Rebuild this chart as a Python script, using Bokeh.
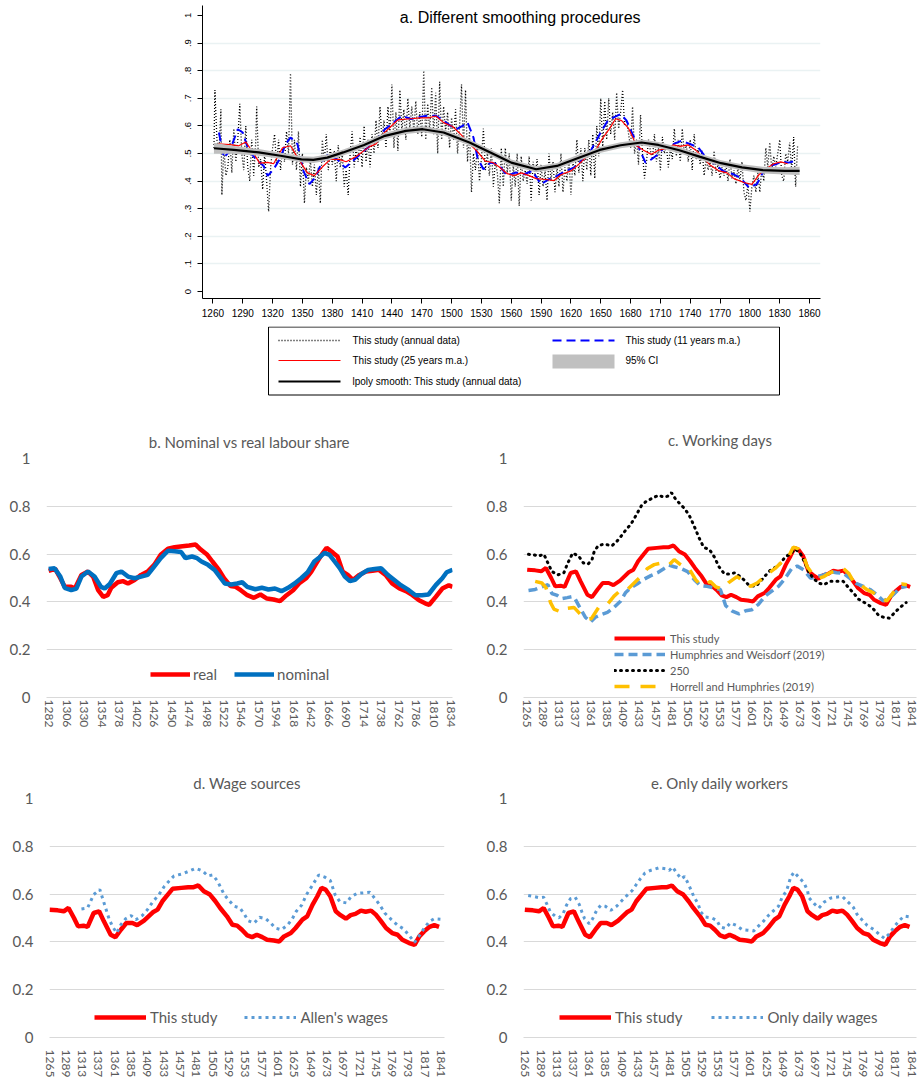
from bokeh.plotting import figure
from bokeh.layouts import column, row
from bokeh.models import FixedTicker, Range1d, Legend, LegendItem, Label, NumeralTickFormatter
from bokeh.embed import file_html
from bokeh.resources import INLINE
from bokeh.core.properties import value

# ---------------- data ----------------
# Panel a: annual data (black dotted)
annual_years = [1261, 1262, 1264, 1266, 1268, 1269, 1271, 1273, 1275, 1277,
                1279, 1281, 1283, 1285, 1287, 1289, 1291, 1293, 1295, 1297,
                1299, 1301, 1303, 1304, 1306, 1308, 1310, 1312, 1314, 1316,
                1318, 1320, 1322, 1324, 1326, 1328, 1330, 1332, 1334, 1336,
                1338, 1340, 1342, 1344, 1346, 1348, 1350, 1352, 1354, 1356,
                1358, 1360, 1362, 1364, 1366, 1368, 1370, 1372, 1374, 1376,
                1378, 1380, 1382, 1384, 1386, 1388, 1390, 1392, 1394, 1396,
                1398, 1400, 1402, 1404, 1406, 1408, 1410, 1412, 1414, 1416,
                1418, 1420, 1422, 1424, 1426, 1428, 1430, 1432, 1434, 1436,
                1438, 1440, 1442, 1444, 1446, 1448, 1450, 1452, 1454, 1456,
                1458, 1460, 1462, 1464, 1466, 1468, 1470, 1472, 1474, 1476,
                1478, 1480, 1482, 1484, 1486, 1488, 1490, 1492, 1494, 1496,
                1498, 1500, 1502, 1504, 1506, 1508, 1510, 1512, 1514, 1516,
                1518, 1520, 1522, 1524, 1526, 1528, 1530, 1532, 1534, 1536,
                1538, 1540, 1542, 1544, 1546, 1548, 1550, 1552, 1554, 1556,
                1558, 1560, 1562, 1564, 1566, 1568, 1570, 1572, 1574, 1576,
                1578, 1580, 1582, 1584, 1586, 1588, 1590, 1592, 1594, 1596,
                1598, 1600, 1602, 1604, 1606, 1608, 1610, 1612, 1614, 1616,
                1618, 1620, 1622, 1624, 1626, 1628, 1630, 1632, 1634, 1636,
                1638, 1640, 1642, 1644, 1646, 1648, 1650, 1652, 1654, 1656,
                1658, 1660, 1662, 1664, 1666, 1668, 1670, 1672, 1674, 1676,
                1678, 1680, 1682, 1684, 1686, 1688, 1690, 1692, 1694, 1696,
                1698, 1700, 1702, 1704, 1706, 1708, 1710, 1712, 1714, 1716,
                1718, 1720, 1722, 1724, 1726, 1728, 1730, 1732, 1734, 1736,
                1738, 1740, 1742, 1744, 1746, 1748, 1750, 1752, 1754, 1756,
                1758, 1760, 1762, 1764, 1766, 1768, 1770, 1772, 1774, 1776,
                1778, 1780, 1782, 1784, 1786, 1788, 1790, 1792, 1794, 1796,
                1798, 1800, 1802, 1804, 1806, 1808, 1810, 1812, 1814, 1816,
                1818, 1820, 1822, 1824, 1826, 1828, 1830, 1832, 1834, 1836,
                1838, 1840, 1842, 1844, 1846, 1848]
annual_vals = [0.52, 0.73, 0.55, 0.50, 0.66, 0.35, 0.52, 0.42, 0.45, 0.55,
               0.43, 0.59, 0.47, 0.55, 0.68, 0.50, 0.44, 0.60, 0.45, 0.40,
               0.55, 0.42, 0.54, 0.67, 0.45, 0.48, 0.37, 0.50, 0.40, 0.29,
               0.45, 0.52, 0.57, 0.46, 0.55, 0.44, 0.52, 0.47, 0.58, 0.50,
               0.79, 0.46, 0.55, 0.44, 0.58, 0.38, 0.50, 0.32, 0.45, 0.40,
               0.48, 0.38, 0.46, 0.35, 0.45, 0.32, 0.55, 0.47, 0.57, 0.44,
               0.52, 0.46, 0.51, 0.40, 0.53, 0.45, 0.50, 0.38, 0.44, 0.35,
               0.50, 0.58, 0.45, 0.52, 0.47, 0.56, 0.45, 0.60, 0.47, 0.55,
               0.45, 0.57, 0.50, 0.62, 0.52, 0.67, 0.55, 0.62, 0.52, 0.67,
               0.57, 0.75, 0.52, 0.65, 0.51, 0.73, 0.58, 0.66, 0.55, 0.70,
               0.59, 0.67, 0.58, 0.69, 0.57, 0.65, 0.56, 0.80, 0.55, 0.68,
               0.58, 0.74, 0.57, 0.72, 0.50, 0.76, 0.55, 0.67, 0.58, 0.65,
               0.52, 0.63, 0.55, 0.66, 0.50, 0.60, 0.75, 0.52, 0.73, 0.47,
               0.58, 0.36, 0.50, 0.44, 0.53, 0.40, 0.48, 0.59, 0.44, 0.50,
               0.42, 0.52, 0.38, 0.47, 0.43, 0.32, 0.52, 0.38, 0.52, 0.43,
               0.50, 0.33, 0.46, 0.38, 0.50, 0.31, 0.49, 0.40, 0.44, 0.39,
               0.49, 0.33, 0.47, 0.42, 0.48, 0.35, 0.46, 0.38, 0.44, 0.33,
               0.50, 0.40, 0.47, 0.36, 0.45, 0.38, 0.50, 0.36, 0.45, 0.40,
               0.48, 0.35, 0.47, 0.42, 0.55, 0.43, 0.52, 0.40, 0.52, 0.44,
               0.55, 0.42, 0.57, 0.41, 0.60, 0.49, 0.70, 0.52, 0.69, 0.55,
               0.70, 0.57, 0.65, 0.55, 0.72, 0.59, 0.65, 0.73, 0.60, 0.62,
               0.57, 0.52, 0.67, 0.50, 0.55, 0.46, 0.64, 0.50, 0.41, 0.47,
               0.55, 0.51, 0.48, 0.57, 0.47, 0.52, 0.44, 0.56, 0.50, 0.53,
               0.45, 0.52, 0.48, 0.59, 0.49, 0.55, 0.47, 0.59, 0.50, 0.53,
               0.47, 0.55, 0.44, 0.57, 0.48, 0.52, 0.46, 0.51, 0.42, 0.48,
               0.44, 0.47, 0.42, 0.51, 0.43, 0.46, 0.41, 0.45, 0.42, 0.46,
               0.40, 0.48, 0.41, 0.44, 0.39, 0.45, 0.40, 0.47, 0.36, 0.33,
               0.39, 0.29, 0.38, 0.42, 0.36, 0.43, 0.36, 0.45, 0.40, 0.52,
               0.45, 0.54, 0.44, 0.49, 0.45, 0.50, 0.55, 0.42, 0.40, 0.50,
               0.47, 0.54, 0.44, 0.56, 0.38, 0.53]

# Panel a: 11 years moving average (blue dashed)
ma11_years = [1266, 1271, 1277, 1285, 1290, 1296, 1302, 1311, 1315, 1321,
              1328, 1333, 1338, 1345, 1351, 1357, 1363, 1370, 1376, 1385,
              1393, 1399, 1408, 1416, 1425, 1433, 1442, 1450, 1459, 1467,
              1475, 1484, 1492, 1499, 1505, 1511, 1516, 1522, 1526, 1532,
              1539, 1547, 1556, 1564, 1573, 1581, 1590, 1598, 1606, 1615,
              1623, 1632, 1640, 1649, 1657, 1663, 1670, 1676, 1682, 1689,
              1695, 1701, 1708, 1714, 1723, 1731, 1740, 1748, 1756, 1765,
              1773, 1782, 1790, 1799, 1807, 1813, 1820, 1826, 1832, 1839,
              1845]
ma11_vals = [0.576, 0.485, 0.510, 0.588, 0.576, 0.510, 0.485, 0.455, 0.419, 0.443,
             0.485, 0.534, 0.558, 0.534, 0.437, 0.389, 0.413, 0.473, 0.498, 0.479,
             0.449, 0.467, 0.498, 0.522, 0.552, 0.588, 0.613, 0.637, 0.625, 0.631,
             0.637, 0.637, 0.619, 0.600, 0.588, 0.600, 0.613, 0.558, 0.485, 0.443,
             0.467, 0.461, 0.419, 0.431, 0.425, 0.437, 0.389, 0.407, 0.419, 0.437,
             0.449, 0.479, 0.510, 0.570, 0.619, 0.631, 0.643, 0.619, 0.570, 0.516,
             0.467, 0.479, 0.498, 0.522, 0.534, 0.546, 0.534, 0.522, 0.485, 0.461,
             0.437, 0.427, 0.413, 0.377, 0.389, 0.431, 0.455, 0.461, 0.471, 0.467,
             0.473]

# Panel a: lpoly smooth and 95% CI half width
lp_years = [1261, 1281, 1306, 1328, 1349, 1361, 1375, 1391, 1412, 1433,
            1454, 1471, 1492, 1518, 1539, 1560, 1585, 1606, 1628, 1649,
            1670, 1691, 1708, 1729, 1750, 1771, 1792, 1813, 1835, 1850]
lp_vals = [0.519, 0.513, 0.504, 0.492, 0.479, 0.477, 0.485, 0.504, 0.531, 0.564,
           0.582, 0.588, 0.576, 0.540, 0.504, 0.467, 0.443, 0.455, 0.485, 0.513,
           0.530, 0.540, 0.531, 0.512, 0.488, 0.465, 0.450, 0.440, 0.437, 0.437]
ci_half = [0.020, 0.014, 0.012, 0.011, 0.011, 0.011, 0.011, 0.011, 0.011, 0.011,
           0.011, 0.011, 0.011, 0.011, 0.011, 0.011, 0.011, 0.011, 0.011, 0.011,
           0.011, 0.011, 0.011, 0.011, 0.011, 0.011, 0.011, 0.012, 0.013, 0.015]

# This study (25 years m.a.) - used in a, c, d, e
this_years = [1265, 1277, 1286, 1293, 1301, 1307, 1315, 1321, 1330, 1338,
              1345, 1355, 1362, 1370, 1378, 1387, 1394, 1404, 1417, 1424,
              1431, 1439, 1446, 1459, 1469, 1477, 1484, 1492, 1501, 1509,
              1516, 1526, 1534, 1541, 1548, 1556, 1563, 1570, 1578, 1585,
              1595, 1603, 1610, 1620, 1627, 1637, 1644, 1652, 1659, 1665,
              1671, 1678, 1686, 1693, 1701, 1708, 1715, 1723, 1730, 1738,
              1745, 1752, 1760, 1769, 1777, 1784, 1794, 1802, 1809, 1816,
              1824, 1831, 1838]
this_vals = [0.535, 0.532, 0.528, 0.542, 0.500, 0.465, 0.468, 0.463, 0.521, 0.528,
             0.486, 0.430, 0.420, 0.451, 0.479, 0.479, 0.470, 0.489, 0.524, 0.535,
             0.570, 0.598, 0.622, 0.626, 0.629, 0.629, 0.636, 0.612, 0.598, 0.570,
             0.542, 0.507, 0.472, 0.468, 0.451, 0.427, 0.420, 0.430, 0.420, 0.409,
             0.406, 0.402, 0.423, 0.437, 0.458, 0.493, 0.507, 0.556, 0.591, 0.626,
             0.619, 0.591, 0.528, 0.512, 0.497, 0.512, 0.517, 0.531, 0.526, 0.531,
             0.514, 0.489, 0.458, 0.437, 0.430, 0.409, 0.395, 0.388, 0.423, 0.444,
             0.463, 0.470, 0.463]

# Panel b
real_years = [1281, 1290, 1297, 1303, 1312, 1317, 1326, 1335, 1342, 1349,
              1356, 1362, 1367, 1376, 1383, 1390, 1399, 1408, 1417, 1426,
              1435, 1445, 1454, 1465, 1474, 1483, 1490, 1499, 1506, 1515,
              1522, 1531, 1538, 1545, 1554, 1563, 1572, 1581, 1590, 1599,
              1608, 1617, 1626, 1635, 1642, 1649, 1656, 1663, 1672, 1678,
              1685, 1692, 1699, 1708, 1717, 1726, 1735, 1744, 1753, 1763,
              1772, 1781, 1790, 1799, 1804, 1813, 1822, 1831, 1836]
real_vals = [0.530, 0.538, 0.499, 0.463, 0.463, 0.456, 0.513, 0.527, 0.506, 0.449,
             0.421, 0.428, 0.459, 0.482, 0.487, 0.477, 0.492, 0.513, 0.527, 0.555,
             0.597, 0.623, 0.629, 0.633, 0.636, 0.640, 0.619, 0.597, 0.569, 0.534,
             0.499, 0.466, 0.463, 0.449, 0.428, 0.417, 0.431, 0.414, 0.410, 0.403,
             0.428, 0.449, 0.480, 0.499, 0.527, 0.562, 0.597, 0.626, 0.605, 0.590,
             0.527, 0.513, 0.492, 0.513, 0.527, 0.530, 0.534, 0.513, 0.477, 0.456,
             0.445, 0.428, 0.407, 0.393, 0.388, 0.421, 0.456, 0.470, 0.463]
nominal_years = [1281, 1289, 1297, 1303, 1312, 1319, 1326, 1335, 1344, 1353,
                 1358, 1365, 1374, 1381, 1390, 1399, 1408, 1417, 1426, 1435,
                 1445, 1454, 1463, 1469, 1478, 1485, 1491, 1500, 1509, 1516,
                 1523, 1532, 1540, 1547, 1554, 1565, 1574, 1583, 1592, 1601,
                 1610, 1619, 1628, 1637, 1646, 1653, 1660, 1667, 1674, 1681,
                 1688, 1695, 1702, 1711, 1720, 1729, 1738, 1747, 1756, 1765,
                 1776, 1785, 1794, 1803, 1813, 1822, 1828, 1836]
nominal_vals = [0.538, 0.541, 0.506, 0.459, 0.449, 0.456, 0.506, 0.527, 0.506, 0.463,
                0.456, 0.475, 0.520, 0.527, 0.506, 0.499, 0.506, 0.513, 0.548, 0.583,
                0.614, 0.612, 0.609, 0.583, 0.590, 0.583, 0.569, 0.555, 0.534, 0.506,
                0.477, 0.473, 0.477, 0.482, 0.463, 0.453, 0.459, 0.452, 0.456, 0.445,
                0.459, 0.477, 0.499, 0.524, 0.569, 0.586, 0.605, 0.597, 0.569, 0.541,
                0.506, 0.487, 0.492, 0.517, 0.534, 0.538, 0.541, 0.513, 0.492, 0.470,
                0.449, 0.428, 0.428, 0.431, 0.470, 0.499, 0.524, 0.534]

# Panel c
hw_years = [1267, 1277, 1287, 1296, 1302, 1310, 1317, 1325, 1332, 1337,
            1345, 1352, 1360, 1367, 1375, 1385, 1395, 1405, 1412, 1420,
            1430, 1440, 1450, 1460, 1470, 1477, 1485, 1495, 1505, 1515,
            1524, 1534, 1544, 1554, 1562, 1572, 1582, 1592, 1601, 1611,
            1621, 1631, 1641, 1651, 1661, 1669, 1679, 1689, 1699, 1709,
            1718, 1728, 1738, 1748, 1758, 1768, 1778, 1788, 1798, 1806,
            1813, 1823, 1833]
hw_vals = [0.448, 0.452, 0.463, 0.472, 0.435, 0.427, 0.414, 0.418, 0.422, 0.411,
           0.370, 0.336, 0.316, 0.336, 0.346, 0.356, 0.377, 0.404, 0.438, 0.459,
           0.476, 0.495, 0.510, 0.522, 0.540, 0.554, 0.547, 0.540, 0.527, 0.493,
           0.468, 0.465, 0.459, 0.452, 0.384, 0.361, 0.350, 0.363, 0.367, 0.390,
           0.424, 0.445, 0.465, 0.499, 0.540, 0.550, 0.533, 0.499, 0.506, 0.513,
           0.527, 0.522, 0.520, 0.499, 0.476, 0.465, 0.452, 0.431, 0.404, 0.414,
           0.431, 0.459, 0.465]
d250_years = [1267, 1275, 1282, 1290, 1296, 1302, 1311, 1320, 1325, 1333,
              1342, 1349, 1356, 1362, 1365, 1371, 1380, 1392, 1400, 1407,
              1414, 1420, 1425, 1431, 1436, 1444, 1452, 1461, 1469, 1475,
              1481, 1487, 1493, 1500, 1507, 1512, 1517, 1522, 1529, 1538,
              1545, 1552, 1560, 1569, 1576, 1582, 1589, 1597, 1607, 1614,
              1621, 1629, 1636, 1644, 1651, 1659, 1666, 1674, 1681, 1686,
              1693, 1701, 1709, 1718, 1728, 1738, 1746, 1753, 1761, 1771,
              1781, 1791, 1798, 1807, 1815, 1823, 1832]
d250_vals = [0.599, 0.597, 0.592, 0.599, 0.563, 0.527, 0.513, 0.522, 0.558, 0.604,
             0.592, 0.563, 0.558, 0.577, 0.608, 0.635, 0.642, 0.635, 0.656, 0.680,
             0.706, 0.724, 0.748, 0.778, 0.803, 0.823, 0.833, 0.846, 0.839, 0.842,
             0.857, 0.830, 0.812, 0.792, 0.765, 0.735, 0.703, 0.669, 0.629, 0.618,
             0.588, 0.547, 0.517, 0.517, 0.522, 0.509, 0.493, 0.469, 0.465, 0.486,
             0.509, 0.533, 0.544, 0.561, 0.588, 0.601, 0.622, 0.601, 0.561, 0.527,
             0.499, 0.479, 0.472, 0.486, 0.486, 0.486, 0.459, 0.438, 0.411, 0.395,
             0.377, 0.343, 0.336, 0.332, 0.356, 0.377, 0.397]
hh_years = [1277, 1287, 1293, 1300, 1305, 1317, 1325, 1335, 1342, 1347,
            1355, 1361, 1372, 1385, 1395, 1405, 1415, 1425, 1435, 1445,
            1455, 1467, 1477, 1485, 1492, 1500, 1507, 1517, 1524, 1532,
            1539, 1547, 1557, 1567, 1579, 1589, 1599, 1609, 1616, 1626,
            1636, 1646, 1656, 1663, 1671, 1679, 1684, 1691, 1701, 1709,
            1718, 1728, 1738, 1746, 1753, 1763, 1773, 1783, 1793, 1803,
            1811, 1818, 1826, 1833]
hh_vals = [0.486, 0.479, 0.460, 0.397, 0.370, 0.356, 0.373, 0.377, 0.356, 0.340,
           0.329, 0.330, 0.377, 0.390, 0.424, 0.449, 0.452, 0.479, 0.506, 0.540,
           0.556, 0.563, 0.554, 0.577, 0.561, 0.547, 0.540, 0.493, 0.472, 0.472,
           0.486, 0.463, 0.454, 0.482, 0.506, 0.486, 0.465, 0.479, 0.495, 0.520,
           0.540, 0.567, 0.588, 0.629, 0.622, 0.588, 0.547, 0.520, 0.499, 0.506,
           0.522, 0.531, 0.540, 0.520, 0.486, 0.472, 0.452, 0.438, 0.418, 0.404,
           0.431, 0.465, 0.475, 0.472]

# Panel d: Allen's wages
allen_years = [1312, 1321, 1330, 1339, 1346, 1353, 1358, 1364, 1370, 1377,
               1385, 1392, 1402, 1409, 1417, 1426, 1434, 1441, 1448, 1461,
               1471, 1480, 1490, 1498, 1505, 1512, 1522, 1530, 1537, 1545,
               1552, 1557, 1566, 1574, 1583, 1591, 1597, 1606, 1615, 1622,
               1628, 1636, 1643, 1650, 1661, 1670, 1678, 1685, 1692, 1702,
               1708, 1717, 1726, 1736, 1743, 1751, 1758, 1768, 1777, 1786,
               1794, 1802, 1810, 1817, 1824, 1831, 1840]
allen_vals = [0.538, 0.542, 0.598, 0.619, 0.556, 0.493, 0.463, 0.437, 0.472, 0.497,
              0.510, 0.493, 0.512, 0.535, 0.568, 0.598, 0.633, 0.655, 0.676, 0.685,
              0.697, 0.708, 0.697, 0.676, 0.680, 0.655, 0.598, 0.570, 0.549, 0.542,
              0.514, 0.489, 0.479, 0.503, 0.497, 0.477, 0.458, 0.451, 0.470, 0.496,
              0.528, 0.554, 0.598, 0.629, 0.680, 0.671, 0.657, 0.598, 0.568, 0.563,
              0.587, 0.603, 0.605, 0.608, 0.584, 0.554, 0.521, 0.493, 0.470, 0.454,
              0.427, 0.398, 0.430, 0.461, 0.486, 0.497, 0.495]

# Panel e: Only daily wages
daily_years = [1270, 1278, 1286, 1293, 1298, 1303, 1310, 1316, 1322, 1327,
               1333, 1340, 1346, 1350, 1354, 1361, 1366, 1372, 1378, 1385,
               1393, 1402, 1410, 1417, 1425, 1430, 1437, 1444, 1452, 1465,
               1475, 1480, 1485, 1492, 1498, 1503, 1509, 1517, 1523, 1527,
               1534, 1543, 1551, 1556, 1564, 1571, 1580, 1589, 1597, 1606,
               1614, 1621, 1628, 1636, 1643, 1648, 1655, 1661, 1666, 1673,
               1681, 1686, 1688, 1696, 1703, 1711, 1720, 1728, 1738, 1745,
               1754, 1760, 1768, 1775, 1785, 1793, 1801, 1809, 1815, 1823,
               1830, 1839]
daily_vals = [0.594, 0.590, 0.585, 0.587, 0.557, 0.525, 0.508, 0.501, 0.518, 0.553,
              0.581, 0.587, 0.557, 0.525, 0.497, 0.476, 0.497, 0.532, 0.553, 0.549,
              0.532, 0.550, 0.574, 0.594, 0.615, 0.636, 0.664, 0.688, 0.699, 0.710,
              0.706, 0.699, 0.713, 0.685, 0.664, 0.674, 0.640, 0.588, 0.560, 0.525,
              0.504, 0.501, 0.490, 0.463, 0.456, 0.479, 0.469, 0.451, 0.449, 0.446,
              0.469, 0.488, 0.511, 0.532, 0.550, 0.585, 0.615, 0.671, 0.692, 0.671,
              0.646, 0.615, 0.585, 0.560, 0.542, 0.567, 0.583, 0.587, 0.590, 0.571,
              0.546, 0.515, 0.490, 0.469, 0.451, 0.432, 0.414, 0.437, 0.463, 0.490,
              0.508, 0.504]

# Ticks / labels
a_xticks = [1260, 1290, 1320, 1350, 1380, 1410, 1440, 1470, 1500, 1530, 1560,
            1590, 1620, 1650, 1680, 1710, 1740, 1770, 1800, 1830, 1860]
a_yticks = [0, 0.1, 0.2, 0.3, 0.4, 0.5, 0.6, 0.7, 0.8, 0.9, 1]
a_ylabels = ["0", ".1", ".2", ".3", ".4", ".5", ".6", ".7", ".8", ".9", "1"]
a_grid = [0.1, 0.2, 0.3, 0.4, 0.5, 0.6, 0.7, 0.8, 0.9]
b_xticks = [1282 + 24 * i for i in range(24)]
cde_xticks = [1265 + 24 * i for i in range(25)]
xl_yticks = [0, 0.2, 0.4, 0.6, 0.8, 1]

STATA_FONT = "Liberation Sans"
XL_FONT = "Lato"
XL_GREY = "#595959"

# ---------------- panel a ----------------
pa = figure(width=920, height=326, x_range=Range1d(1249.5, 1871), y_range=Range1d(-0.025, 1.036),
            min_border_left=202, min_border_right=100, min_border_top=5, min_border_bottom=28,
            output_backend="svg", toolbar_location=None)
pa.outline_line_color = None
pa.xgrid.visible = False
pa.ygrid.ticker = FixedTicker(ticks=a_grid)
pa.ygrid.grid_line_color = "#EAF2F3"
pa.ygrid.grid_line_width = 1.5
for ax in (pa.xaxis[0], pa.yaxis[0]):
    ax.axis_line_color = "black"
    ax.major_tick_line_color = "black"
    ax.major_tick_out = 5
    ax.major_tick_in = 0
    ax.minor_tick_line_color = None
    ax.major_label_text_font = STATA_FONT
    ax.major_label_text_color = "black"
pa.xaxis.ticker = FixedTicker(ticks=a_xticks)
pa.xaxis.major_label_text_font_size = "10px"
pa.xaxis.major_label_standoff = 5
pa.yaxis.ticker = FixedTicker(ticks=a_yticks)
pa.yaxis.major_label_overrides = dict(zip(a_yticks, a_ylabels))
pa.yaxis.major_label_orientation = "vertical"
pa.yaxis.major_label_text_font_size = "9.5px"
pa.yaxis.major_label_standoff = 6

pa.line(annual_years, annual_vals, line_color="black", line_width=1.3, line_dash="1 2")
pa.line(ma11_years, ma11_vals, line_color="#0000FF", line_width=2, line_dash="9 5")
pa.line(this_years, this_vals, line_color="#FF0000", line_width=1.2)
ci_lo = [v - h for v, h in zip(lp_vals, ci_half)]
ci_hi = [v + h for v, h in zip(lp_vals, ci_half)]
pa.varea(x=lp_years, y1=ci_lo, y2=ci_hi, fill_color="#BEBEBE")
pa.line(lp_years, lp_vals, line_color="black", line_width=2.2)
pa.add_layout(Label(x=1569, y=0.993, text="a. Different smoothing procedures",
                    text_align="center", text_baseline="middle", text_font=STATA_FONT,
                    text_font_size="16px", text_color="black"))

# legend strip for panel a (its frame is aligned with panel a's frame: x in page pixels)
pl = figure(width=920, height=74, x_range=Range1d(202, 820), y_range=Range1d(74, 0),
            x_axis_type=None, y_axis_type=None, min_border=0,
            output_backend="svg", toolbar_location=None)
pl.outline_line_color = None
pl.grid.visible = False
pl.quad(left=[268], right=[779], top=[0.5], bottom=[68.5], fill_color=None,
        line_color="black", line_width=1)
pl.line([278, 340], [14, 14], line_color="black", line_width=1.3, line_dash="1 2")
pl.line([552, 614], [14, 14], line_color="#0000FF", line_width=2, line_dash="9 5")
pl.line([278, 340], [34, 34], line_color="#FF0000", line_width=1.2)
pl.quad(left=[552], right=[614], top=[28], bottom=[42], fill_color="#C0C0C0", line_color=None)
pl.line([278, 340], [55, 55], line_color="black", line_width=2.2)
pl.text(x=[352, 625, 352, 625, 352], y=[14, 14, 34, 34, 55],
        text=["This study (annual data)", "This study (11 years m.a.)",
              "This study (25 years m.a.)", "95% CI",
              "lpoly smooth: This study (annual data)"],
        text_font=value(STATA_FONT), text_font_size="10px", text_baseline="middle",
        text_color="black")


# ---------------- Excel panels ----------------
def excel_panel(title, width, height, xr, mbl, mbr, mbt, mbb, xticks, tstand, lstand, toff):
    p = figure(width=width, height=height, x_range=Range1d(*xr), y_range=Range1d(0, 1),
               min_border_left=mbl, min_border_right=mbr, min_border_top=mbt,
               min_border_bottom=mbb, output_backend="svg", toolbar_location=None)
    p.title.text = title
    p.title.align = "center"
    p.title.text_font = XL_FONT
    p.title.text_font_size = "15px"
    p.title.text_font_style = "normal"
    p.title.text_color = XL_GREY
    p.title.standoff = tstand
    p.title.offset = toff
    p.outline_line_color = None
    p.xgrid.visible = False
    p.ygrid.ticker = FixedTicker(ticks=xl_yticks)
    p.ygrid.grid_line_color = "#D9D9D9"
    p.ygrid.grid_line_width = 1
    p.yaxis.ticker = FixedTicker(ticks=xl_yticks)
    p.yaxis.formatter = NumeralTickFormatter(format="0.[0]")
    p.yaxis.axis_line_color = None
    p.yaxis.major_tick_line_color = None
    p.yaxis.minor_tick_line_color = None
    p.yaxis.major_tick_out = 0
    p.yaxis.major_label_text_font = XL_FONT
    p.yaxis.major_label_text_font_size = "15px"
    p.yaxis.major_label_text_color = XL_GREY
    p.yaxis.major_label_standoff = 16
    p.xaxis.ticker = FixedTicker(ticks=xticks)
    p.xaxis.major_label_orientation = "vertical"
    p.xaxis.axis_line_color = "#D9D9D9"
    p.xaxis.major_tick_line_color = None
    p.xaxis.minor_tick_line_color = None
    p.xaxis.major_tick_out = 0
    p.xaxis.major_tick_in = 0
    p.xaxis.major_label_text_font = XL_FONT
    p.xaxis.major_label_text_font_size = "12px"
    p.xaxis.major_label_text_color = XL_GREY
    p.xaxis.major_label_standoff = lstand
    return p


def xl_legend(items, loc, orient, gw, gh, lh, fs, spacing, standoff):
    return Legend(items=items, location=loc, orientation=orient, glyph_width=gw,
                  glyph_height=gh, label_height=lh, label_standoff=standoff,
                  spacing=spacing, padding=0, margin=0, border_line_color=None,
                  background_fill_alpha=0, label_text_font=XL_FONT,
                  label_text_font_size=fs, label_text_color=XL_GREY)


# panel b
pb = excel_panel("b. Nominal vs real labour share", 460, 330, (1278, 1836), 46, 8, 58, 31,
                 b_xticks, 15, 2, -5)
rb1 = pb.line(real_years, real_vals, line_color="#FF0000", line_width=4.5)
rb2 = pb.line(nominal_years, nominal_vals, line_color="#0070C0", line_width=4.5)
pb.add_layout(xl_legend([LegendItem(label="real", renderers=[rb1]),
                         LegendItem(label="nominal", renderers=[rb2])],
                        (104, 13), "horizontal", 40, 20, 20, "15px", 17, 3))

# panel c
pc = excel_panel("c. Working days", 460, 330, (1259.5, 1847.5), 63, 4, 58, 31,
                 cde_xticks, 20, 2, -7)
rc1 = pc.line(this_years, this_vals, line_color="#FF0000", line_width=4)
rc2 = pc.line(hw_years, hw_vals, line_color="#5B9BD5", line_width=3.5, line_dash="9 5")
rc3 = pc.line(d250_years, d250_vals, line_color="black", line_width=3, line_dash="1 5",
              line_cap="round")
rc4 = pc.line(hh_years, hh_vals, line_color="#FFC000", line_width=3.5, line_dash="15 11")
pc.add_layout(xl_legend([LegendItem(label="This study", renderers=[rc1]),
                         LegendItem(label="Humphries and Weisdorf (2019)", renderers=[rc2]),
                         LegendItem(label="250", renderers=[rc3]),
                         LegendItem(label="Horrell and Humphries (2019)", renderers=[rc4])],
                        (91, 3), "vertical", 51, 16, 16, "11px", 0, 5))

# panel d
pd_ = excel_panel("d. Wage sources", 460, 359, (1265, 1846), 49, 16, 68, 52,
                  cde_xticks, 14, 12, -14)
rd1 = pd_.line(this_years, this_vals, line_color="#FF0000", line_width=4.5)
rd2 = pd_.line(allen_years, allen_vals, line_color="#5B9BD5", line_width=3, line_dash="3 4")
pd_.add_layout(xl_legend([LegendItem(label="This study", renderers=[rd1]),
                          LegendItem(label="Allen's wages", renderers=[rd2])],
                         (45, 10), "horizontal", 52, 20, 20, "15px", 27, 4))

# panel e
pe = excel_panel("e. Only daily workers", 460, 359, (1263, 1848.4), 63, 4, 68, 52,
                 cde_xticks, 14, 12, -14)
re1 = pe.line(this_years, this_vals, line_color="#FF0000", line_width=4.5)
re2 = pe.line(daily_years, daily_vals, line_color="#5B9BD5", line_width=3, line_dash="3 4")
pe.add_layout(xl_legend([LegendItem(label="This study", renderers=[re1]),
                         LegendItem(label="Only daily wages", renderers=[re2])],
                        (36, 10), "horizontal", 52, 20, 20, "15px", 29, 4))

layout = column(pa, pl, row(pb, pc), row(pd_, pe))
open("out.html", "w").write(file_html(layout, INLINE))
